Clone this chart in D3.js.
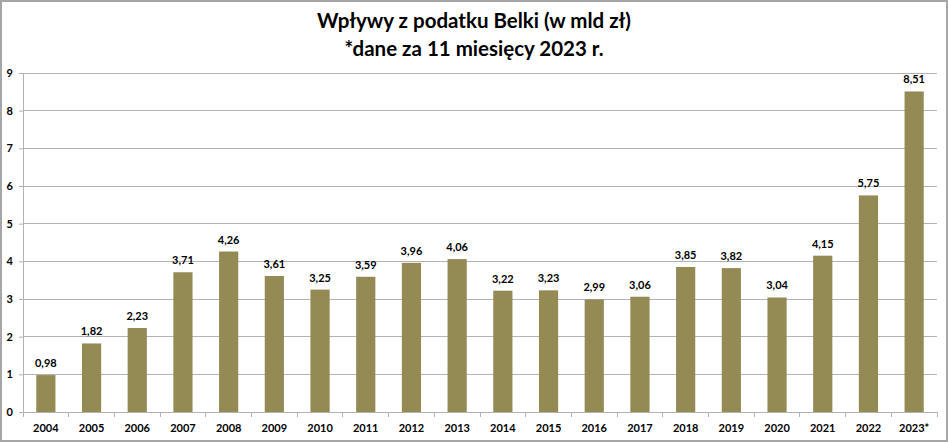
<!DOCTYPE html>
<html><head><meta charset="utf-8">
<script src="https://cdn.jsdelivr.net/npm/d3@7"></script>
<style>
html,body{margin:0;padding:0;background:#fff;}
svg{display:block;}
text{font-family:Lato,"Open Sans",sans-serif;}
</style></head><body>
<svg id="c" width="948" height="442"></svg>
<script>
const categories = ["2004","2005","2006","2007","2008","2009","2010","2011","2012","2013","2014","2015","2016","2017","2018","2019","2020","2021","2022","2023*"];
const values = [0.98,1.82,2.23,3.71,4.26,3.61,3.25,3.59,3.96,4.06,3.22,3.23,2.99,3.06,3.85,3.82,3.04,4.15,5.75,8.51];
const yTicks = [0,1,2,3,4,5,6,7,8,9];
const titleLines = ["Wpływy z podatku Belki (w mld zł)","*dane za 11 miesięcy 2023 r."];

const W=948,H=442;
const m={left:23,right:11,top:73,bottom:30};
const svg=d3.select("#c");
svg.append("rect").attr("x",1).attr("y",1).attr("width",W-2).attr("height",H-2)
  .attr("fill","#fff").attr("stroke","#a6a6a6").attr("stroke-width",2);

const x=d3.scaleBand().domain(categories).range([m.left,W-m.right]).paddingInner(0.58).paddingOuter(0.29);
const y=d3.scaleLinear().domain([0,9]).range([H-m.bottom,m.top]);

// gridlines
svg.append("g").selectAll("line").data(yTicks.filter(d=>d>0)).join("line")
  .attr("x1",m.left).attr("x2",W-m.right).attr("y1",d=>y(d)).attr("y2",d=>y(d))
  .attr("stroke","#b3b3b3").attr("stroke-width",1).attr("shape-rendering","crispEdges");

// y axis
const ya=svg.append("g").attr("transform",`translate(${m.left},0)`)
  .call(d3.axisLeft(y).tickValues(yTicks).tickSize(4).tickPadding(6).tickFormat(d3.format("d")));
ya.select(".domain").attr("stroke","#b3b3b3");
ya.selectAll(".tick line").attr("stroke","#b3b3b3");
ya.selectAll("text").attr("font-size",11).attr("font-weight","bold").attr("fill","#000");

// bars
svg.append("g").selectAll("rect").data(values).join("rect")
  .attr("x",(d,i)=>x(categories[i])).attr("width",x.bandwidth())
  .attr("y",d=>y(d)).attr("height",d=>y(0)-y(d))
  .attr("fill","#948a54");

// x axis
const xa=svg.append("g").attr("transform",`translate(0,${y(0)})`);
xa.append("line").attr("x1",m.left).attr("x2",W-m.right).attr("stroke","#b3b3b3").attr("shape-rendering","crispEdges");
const bounds=d3.range(categories.length+1).map(i=>m.left+i*(W-m.left-m.right)/categories.length);
xa.selectAll("line.t").data(bounds).join("line").attr("class","t")
  .attr("x1",d=>d).attr("x2",d=>d).attr("y1",0).attr("y2",5).attr("stroke","#b3b3b3").attr("shape-rendering","crispEdges");
xa.selectAll("text").data(categories).join("text")
  .attr("x",d=>x(d)+x.bandwidth()/2).attr("y",20).attr("text-anchor","middle")
  .attr("font-size",11).attr("font-weight","bold").text(d=>d);

// value labels
svg.append("g").selectAll("text").data(values).join("text")
  .attr("x",(d,i)=>x(categories[i])+x.bandwidth()/2).attr("y",d=>y(d)-8)
  .attr("text-anchor","middle").attr("font-size",11).attr("font-weight","bold")
  .text(d=>d3.format(".2f")(d).replace(".",","));

// title
svg.append("g").selectAll("text").data(titleLines).join("text")
  .attr("x",W/2).attr("y",(d,i)=>28+i*28).attr("text-anchor","middle")
  .attr("font-size",20.5).attr("font-weight","bold").text(d=>d);
</script>
</body></html>
